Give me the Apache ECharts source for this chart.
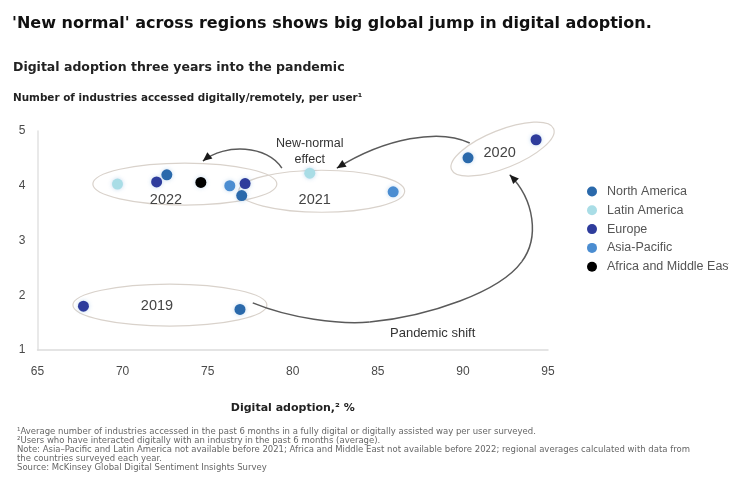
<!DOCTYPE html>
<html><head><meta charset="utf-8">
<script src="https://cdn.jsdelivr.net/npm/echarts@6/dist/echarts.min.js"></script>
<style>html,body{margin:0;padding:0;background:#fff}#c{width:729px;height:481px}</style>
</head><body><div id="c"></div>
<script>
// Regions and their dot colours
const regions = ['North America', 'Latin America', 'Europe', 'Asia-Pacific', 'Africa and Middle East'];
const regionColors = ['#2a69ab', '#a9dde6', '#2e3c9c', '#4b8dd1', '#000000'];

// [digital adoption %, industries accessed per user, survey year]
const northAmerica = [[76.9, 1.74, 2019], [90.3, 4.51, 2020], [77.0, 3.82, 2021], [72.6, 4.20, 2022]];
const latinAmerica = [[81.0, 4.23, 2021], [69.7, 4.03, 2022]];
const europe = [[67.7, 1.80, 2019], [94.3, 4.84, 2020], [77.2, 4.04, 2021], [72.0, 4.07, 2022]];
const asiaPacific = [[85.9, 3.89, 2021], [76.3, 4.00, 2022]];
const africaMiddleEast = [[74.6, 4.06, 2022]];
const regionData = [northAmerica, latinAmerica, europe, asiaPacific, africaMiddleEast];

// Axis tick values
const xTicks = [65, 70, 75, 80, 85, 90, 95];
const yTicks = [1, 2, 3, 4, 5];

// Texts
const titleText = "'New normal' across regions shows big global jump in digital adoption.";
const subtitleText = 'Digital adoption three years into the pandemic';
const yTitleText = 'Number of industries accessed digitally/remotely, per user\u00b9';
const xTitleText = 'Digital adoption,\u00b2 %';
const footnotes = [
  '\u00b9Average number of industries accessed in the past 6 months in a fully digital or digitally assisted way per user surveyed.',
  '\u00b2Users who have interacted digitally with an industry in the past 6 months (average).',
  'Note: Asia\u2013Pacific and Latin America not available before 2021; Africa and Middle East not available before 2022; regional averages calculated with data from',
  'the countries surveyed each year.',
  'Source: McKinsey Global Digital Sentiment Insights Survey'
];

// Year groupings: centre in data space, radii in px, tilt in radians
const yearGroups = [
  { year: '2019', c: [72.78, 1.82], rx: 97, ry: 21, rot: 0, label: [72.02, 1.80] },
  { year: '2022', c: [73.66, 4.03], rx: 92, ry: 21, rot: 0, label: [72.55, 3.74] },
  { year: '2021', c: [81.70, 3.90], rx: 83, ry: 21, rot: 0, label: [81.29, 3.74] },
  { year: '2020', c: [92.33, 4.67], rx: 55, ry: 19, rot: 0.38, label: [92.16, 4.60] }
];

// Transition arrows as cubic bezier chains in data space
const arrows = [
  [[90.40, 4.78], [88.63, 5.05], [85.41, 4.87], [82.59, 4.32]],
  [[79.36, 4.32], [78.53, 4.74], [76.01, 4.78], [74.72, 4.45]],
  [[77.65, 1.86], [79.83, 1.58], [82.76, 1.46], [84.52, 1.51],
   [88.05, 1.62], [92.16, 2.06], [93.45, 2.61],
   [94.51, 3.05], [94.21, 3.74], [92.75, 4.20]]
];
const arrowNotes = [
  { text: 'New-normal\neffect', at: [81.0, 4.63], size: 12.5 },
  { text: 'Pandemic shift', at: [88.22, 1.31], size: 13 }
];

const chart = echarts.init(document.getElementById('c'), null, { renderer: 'canvas' });
const baseFont = '"Liberation Sans", Arial, sans-serif';
const headFont = '"DejaVu Sans", "Liberation Sans", sans-serif';

chart.setOption({
  animation: false,
  backgroundColor: '#ffffff',
  textStyle: { fontFamily: baseFont },
  title: [
    { text: titleText, left: 12, top: 16, padding: 0, textStyle: { fontSize: 16, fontWeight: 'bold', color: '#111', fontFamily: headFont } },
    { text: subtitleText, left: 13, top: 61, padding: 0, textStyle: { fontSize: 12.5, fontWeight: 'bold', color: '#222', fontFamily: headFont } },
    { text: yTitleText, left: 13, top: 93, padding: 0, textStyle: { fontSize: 10.4, fontWeight: 'bold', color: '#222', fontFamily: headFont } }
  ],
  grid: { left: 37.5, right: 181, top: 131, bottom: 131, containLabel: false },
  xAxis: {
    type: 'value', min: xTicks[0], max: xTicks[xTicks.length - 1], interval: 5,
    name: xTitleText, nameLocation: 'middle', nameGap: 53,
    nameTextStyle: { fontSize: 11, fontWeight: 'bold', color: '#222', fontFamily: headFont },
    axisLine: { show: true, lineStyle: { color: '#dcdcdc', width: 1.5 } },
    axisTick: { show: false }, splitLine: { show: false },
    axisLabel: { fontSize: 12, color: '#4a4a4a', margin: 16 }
  },
  yAxis: {
    type: 'value', min: yTicks[0], max: yTicks[yTicks.length - 1], interval: 1,
    axisLine: { show: true, lineStyle: { color: '#e2e2e2', width: 1.5 } },
    axisTick: { show: false }, splitLine: { show: false },
    axisLabel: { fontSize: 12, color: '#4a4a4a', margin: 12 }
  },
  legend: {
    orient: 'vertical', left: 582, top: 180, itemWidth: 20, itemHeight: 10, itemGap: 5.8,
    icon: 'circle', data: regions,
    textStyle: { fontSize: 12.5, color: '#555' }
  },
  series: regions.map((name, i) => ({
    name, type: 'scatter', data: regionData[i], symbolSize: 11, z: 5,
    itemStyle: { color: regionColors[i], opacity: 1, shadowBlur: 4, shadowColor: 'rgba(120,170,220,0.45)' }
  }))
});

// Annotations placed through the grid's coordinate system
function px(p) { return chart.convertToPixel({ gridIndex: 0 }, p); }

function arrowHead(tip, from, len, wid) {
  const dx = tip[0] - from[0], dy = tip[1] - from[1];
  const L = Math.hypot(dx, dy) || 1;
  const ux = dx / L, uy = dy / L;
  const bx = tip[0] - ux * len, by = tip[1] - uy * len;
  return [tip, [bx - uy * wid / 2, by + ux * wid / 2], [bx + uy * wid / 2, by - ux * wid / 2]];
}

const graphics = [];
yearGroups.forEach(g => {
  const c = px(g.c);
  graphics.push({
    type: 'ellipse', x: c[0], y: c[1], rotation: g.rot, z: 1,
    shape: { cx: 0, cy: 0, rx: g.rx, ry: g.ry },
    style: { fill: 'rgba(255,255,255,0)', stroke: '#d9d2cb', lineWidth: 1.2 }
  });
  const l = px(g.label);
  graphics.push({
    type: 'text', x: l[0], y: l[1], z: 6,
    style: { text: g.year, fill: '#444', font: '14.5px ' + baseFont, textAlign: 'center', textVerticalAlign: 'middle' }
  });
});

arrows.forEach(a => {
  const p = a.map(px);
  for (let i = 0; i + 3 < p.length; i += 3) {
    graphics.push({
      type: 'bezierCurve', z: 3,
      shape: {
        x1: p[i][0], y1: p[i][1],
        cpx1: p[i + 1][0], cpy1: p[i + 1][1],
        cpx2: p[i + 2][0], cpy2: p[i + 2][1],
        x2: p[i + 3][0], y2: p[i + 3][1]
      },
      style: { fill: null, stroke: '#5a5a5a', lineWidth: 1.5 }
    });
  }
  const tip = p[p.length - 1], prev = p[p.length - 2];
  graphics.push({
    type: 'polygon', z: 4,
    shape: { points: arrowHead(tip, prev, 9, 8) },
    style: { fill: '#1a1a1a' }
  });
});

arrowNotes.forEach(n => {
  const p = px(n.at);
  graphics.push({
    type: 'text', x: p[0], y: p[1], z: 6,
    style: { text: n.text, fill: '#333', font: n.size + 'px ' + baseFont, textAlign: 'center', textVerticalAlign: 'middle', lineHeight: 16 }
  });
});

footnotes.forEach((t, i) => {
  graphics.push({
    type: 'text', left: 17, top: 427 + i * 9,
    style: { text: t, fill: '#666', font: '8.5px ' + headFont }
  });
});

chart.setOption({ graphic: graphics });
</script>
</body></html>
